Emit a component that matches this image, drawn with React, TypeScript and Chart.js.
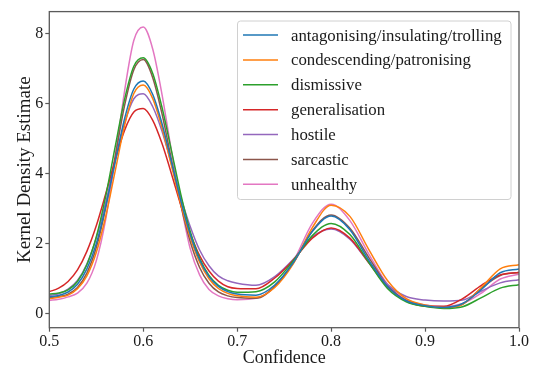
import React, { useEffect, useRef } from 'react';
import { Chart, registerables } from 'chart.js';

Chart.register(...registerables);

const FONT = '"Liberation Serif", "Times New Roman", serif';

// x positions (Confidence)
const confidence = [
  0.50, 0.51, 0.52, 0.53, 0.54, 0.55, 0.56, 0.57, 0.58, 0.59, 0.60, 0.61, 0.62, 0.63, 0.64, 0.65, 0.66, 0.67, 0.68, 0.69,
  0.70, 0.72, 0.74, 0.76, 0.78, 0.80, 0.82, 0.84, 0.86, 0.88, 0.90, 0.92, 0.94, 0.96, 0.98, 1.00,
];

const seriesLabels = [
  'antagonising/insulating/trolling',
  'condescending/patronising',
  'dismissive',
  'generalisation',
  'hostile',
  'sarcastic',
  'unhealthy',
];

const seriesColors = ['#1f77b4', '#ff7f0e', '#2ca02c', '#d62728', '#9467bd', '#8c564b', '#e377c2'];

const antagonising = [
  0.47, 0.51, 0.61, 0.83, 1.27, 1.99, 3.05, 4.31, 5.55, 6.41, 6.64, 6.26, 5.42, 4.33, 3.22, 2.26, 1.53, 1.05, 0.77, 0.62,
  0.55, 0.52, 0.81, 1.46, 2.34, 2.78, 2.39, 1.52, 0.77, 0.36, 0.22, 0.17, 0.28, 0.68, 1.16, 1.27,
];
const condescending = [
  0.42, 0.46, 0.52, 0.70, 1.07, 1.74, 2.76, 4.05, 5.35, 6.28, 6.52, 6.14, 5.30, 4.22, 3.12, 2.17, 1.46, 0.99, 0.71, 0.57,
  0.50, 0.46, 0.74, 1.43, 2.45, 3.09, 2.77, 1.83, 0.94, 0.42, 0.24, 0.17, 0.26, 0.74, 1.27, 1.39,
];
const dismissive = [
  0.55, 0.58, 0.67, 0.91, 1.39, 2.18, 3.34, 4.74, 6.10, 7.06, 7.30, 6.86, 5.88, 4.65, 3.40, 2.34, 1.57, 1.08, 0.80, 0.66,
  0.60, 0.62, 0.90, 1.51, 2.22, 2.57, 2.25, 1.46, 0.71, 0.33, 0.20, 0.14, 0.19, 0.45, 0.72, 0.82,
];
const generalisation = [
  0.62, 0.72, 0.91, 1.24, 1.77, 2.50, 3.41, 4.37, 5.22, 5.75, 5.85, 5.52, 4.85, 3.99, 3.09, 2.29, 1.65, 1.21, 0.92, 0.76,
  0.71, 0.70, 1.01, 1.53, 2.15, 2.44, 2.15, 1.45, 0.75, 0.36, 0.22, 0.20, 0.42, 0.80, 1.10, 1.17,
];
const hostile = [
  0.51, 0.56, 0.69, 0.94, 1.41, 2.15, 3.16, 4.33, 5.42, 6.13, 6.27, 5.91, 5.20, 4.27, 3.32, 2.48, 1.81, 1.36, 1.07, 0.93,
  0.86, 0.80, 1.05, 1.55, 2.18, 2.41, 2.12, 1.45, 0.82, 0.48, 0.38, 0.35, 0.38, 0.64, 0.87, 0.96,
];
const sarcastic = [
  0.45, 0.48, 0.55, 0.74, 1.15, 1.88, 3.01, 4.46, 5.92, 6.96, 7.25, 6.74, 5.70, 4.39, 3.10, 2.05, 1.31, 0.86, 0.61, 0.50,
  0.45, 0.43, 0.77, 1.45, 2.36, 2.81, 2.43, 1.60, 0.80, 0.35, 0.20, 0.16, 0.26, 0.72, 1.08, 1.17,
];
const unhealthy = [
  0.37, 0.40, 0.47, 0.58, 0.86, 1.50, 2.68, 4.40, 6.33, 7.80, 8.18, 7.56, 6.25, 4.64, 3.13, 1.85, 1.10, 0.68, 0.50, 0.42,
  0.39, 0.43, 0.76, 1.50, 2.57, 3.12, 2.65, 1.70, 0.83, 0.39, 0.24, 0.19, 0.28, 0.58, 0.98, 1.12,
];

const seriesValues = [antagonising, condescending, dismissive, generalisation, hostile, sarcastic, unhealthy];

const xTicks = [0.5, 0.6, 0.7, 0.8, 0.9, 1.0];
const yTicks = [0, 2, 4, 6, 8];

const TEXT = '#1a1a1a';
const SPINE = '#5a5a5a';

const frameAndLegend = {
  id: 'frameAndLegend',
  afterDraw(chart: any) {
    const { ctx, chartArea: a } = chart;
    ctx.save();
    // frame (all four spines)
    ctx.strokeStyle = SPINE;
    ctx.lineWidth = 1.3;
    ctx.strokeRect(a.left, a.top, a.right - a.left, a.bottom - a.top);

    // legend box
    const lw = 273.5;
    const lh = 178.5;
    const lx = a.right - 8 - lw;
    const ly = a.top + 9.4;
    const r = 3;
    ctx.beginPath();
    ctx.moveTo(lx + r, ly);
    ctx.lineTo(lx + lw - r, ly);
    ctx.arcTo(lx + lw, ly, lx + lw, ly + r, r);
    ctx.lineTo(lx + lw, ly + lh - r);
    ctx.arcTo(lx + lw, ly + lh, lx + lw - r, ly + lh, r);
    ctx.lineTo(lx + r, ly + lh);
    ctx.arcTo(lx, ly + lh, lx, ly + lh - r, r);
    ctx.lineTo(lx, ly + r);
    ctx.arcTo(lx, ly, lx + r, ly, r);
    ctx.closePath();
    ctx.fillStyle = 'rgba(255,255,255,0.85)';
    ctx.fill();
    ctx.strokeStyle = '#d0d0d0';
    ctx.lineWidth = 1;
    ctx.stroke();

    chart.data.datasets.forEach((ds: any, i: number) => {
      const y = ly + 14 + i * 24.88;
      ctx.beginPath();
      ctx.strokeStyle = ds.borderColor;
      ctx.lineWidth = 1.5;
      ctx.moveTo(lx + 5.5, y);
      ctx.lineTo(lx + 40.5, y);
      ctx.stroke();
      ctx.fillStyle = TEXT;
      ctx.font = `16.8px ${FONT}`;
      ctx.textBaseline = 'alphabetic';
      ctx.textAlign = 'left';
      ctx.fillText(ds.label, lx + 53.5, y + 5.5);
    });
    ctx.restore();
  },
};

export default function App() {
  const ref = useRef<HTMLCanvasElement | null>(null);

  useEffect(() => {
    if (!ref.current) return;
    const datasets = seriesLabels.map((label, i) => ({
      label,
      data: confidence.map((x, j) => ({ x, y: seriesValues[i][j] })),
      borderColor: seriesColors[i],
      backgroundColor: seriesColors[i],
      borderWidth: 1.5,
      pointRadius: 0,
      fill: false,
      cubicInterpolationMode: 'monotone' as const,
    }));

    const chart = new Chart(ref.current, {
      type: 'line',
      data: { datasets },
      options: {
        responsive: false,
        animation: false,
        layout: { padding: { top: 7.3, right: 16, bottom: 0, left: 0 } },
        plugins: { legend: { display: false }, tooltip: { enabled: false } },
        scales: {
          x: {
            type: 'linear',
            min: 0.5,
            max: 1.0,
            afterBuildTicks: (scale: any) => {
              scale.ticks = xTicks.map((v) => ({ value: v }));
            },
            afterFit: (scale: any) => {
              scale.height = 42.3;
            },
            ticks: {
              callback: (v: any) => Number(v).toFixed(1),
              font: { family: FONT, size: 16 },
              color: TEXT,
              padding: 0.5,
              maxRotation: 0,
              autoSkip: false,
            },
            grid: {
              drawOnChartArea: false,
              drawTicks: true,
              tickLength: 4,
              tickColor: SPINE,
              tickWidth: 1.2,
            },
            border: { display: false },
            title: {
              display: true,
              text: 'Confidence',
              color: TEXT,
              font: { family: FONT, size: 18 },
              padding: { top: 0, bottom: 1 },
            },
          },
          y: {
            type: 'linear',
            min: -0.41,
            max: 8.62,
            afterBuildTicks: (scale: any) => {
              scale.ticks = yTicks.map((v) => ({ value: v }));
            },
            afterFit: (scale: any) => {
              scale.width = 49.3;
            },
            ticks: {
              callback: (v: any) => String(v),
              font: { family: FONT, size: 16 },
              color: TEXT,
              padding: 2,
            },
            grid: {
              drawOnChartArea: false,
              drawTicks: true,
              tickLength: 4,
              tickColor: SPINE,
              tickWidth: 1.2,
            },
            border: { display: false },
            title: {
              display: true,
              text: 'Kernel Density Estimate',
              color: TEXT,
              font: { family: FONT, size: 19 },
              padding: { top: 14, bottom: 0 },
            },
          },
        },
      },
      plugins: [frameAndLegend],
    });
    return () => chart.destroy();
  }, []);

  return (
    <div style={{ position: 'fixed', left: 0, top: 0, width: 535, height: 370, background: '#fff' }}>
      <canvas ref={ref} width={535} height={370} style={{ display: 'block' }} />
    </div>
  );
}
